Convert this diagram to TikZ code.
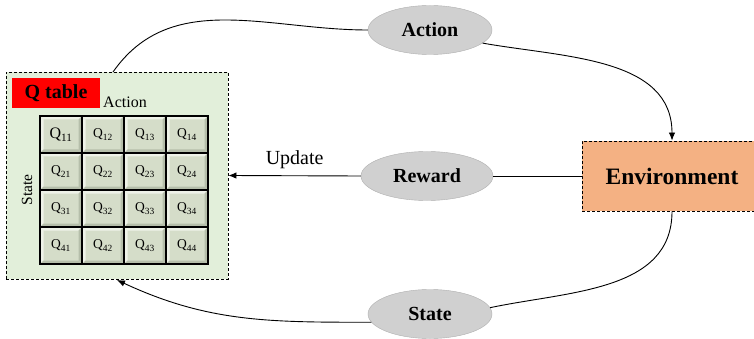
\documentclass[tikz,border=0pt]{standalone}
\usepackage{fontspec}
\setmainfont{Liberation Serif}
\usetikzlibrary{shapes.geometric,arrows.meta}
\definecolor{qtgreen}{HTML}{E2EFDA}
\definecolor{envorange}{HTML}{F4B183}
\definecolor{ellfill}{HTML}{D0D0D0}
\definecolor{ellline}{HTML}{AFAFAF}
\definecolor{cellfill}{HTML}{D5DDC9}
\definecolor{bevlight}{HTML}{EEF2E8}
\definecolor{bevdark}{HTML}{B5BEAA}
\tikzset{
  ovalbox/.style={ellipse, draw=ellline, fill=ellfill, minimum width=124pt, minimum height=49pt, inner sep=0pt,
    font=\fontsize{20}{24}\selectfont\bfseries},
  dashframe/.style={rectangle, draw=black, dash pattern=on 3pt off 2pt, line width=0.9pt, inner sep=0pt},
  qcell/.style={rectangle, draw=black, line width=1.4pt, fill=cellfill, minimum width=42pt, minimum height=37pt, inner sep=0pt,
    font=\fontsize{13.5}{16}\selectfont,
    path picture={
      \fill[bevlight] (path picture bounding box.north west) -- (path picture bounding box.north east)
        -- ([xshift=-3.5pt,yshift=-3.5pt]path picture bounding box.north east)
        -- ([xshift=3.5pt,yshift=-3.5pt]path picture bounding box.north west) -- cycle;
      \fill[bevlight] (path picture bounding box.north west) -- (path picture bounding box.south west)
        -- ([xshift=3.5pt,yshift=3.5pt]path picture bounding box.south west)
        -- ([xshift=3.5pt,yshift=-3.5pt]path picture bounding box.north west) -- cycle;
      \fill[bevdark] (path picture bounding box.south east) -- (path picture bounding box.south west)
        -- ([xshift=3.5pt,yshift=3.5pt]path picture bounding box.south west)
        -- ([xshift=-3.5pt,yshift=3.5pt]path picture bounding box.south east) -- cycle;
      \fill[bevdark] (path picture bounding box.south east) -- (path picture bounding box.north east)
        -- ([xshift=-3.5pt,yshift=-3.5pt]path picture bounding box.north east)
        -- ([xshift=-3.5pt,yshift=3.5pt]path picture bounding box.south east) -- cycle;
    }},
  conn/.style={line width=0.9pt, black},
  arr/.style={conn, -{Latex[length=8pt,width=6.5pt]}}
}
\begin{document}
\begin{tikzpicture}[x=1pt,y=1pt]
\clip (0,0) rectangle (754,-339);
\fill[white] (0,0) rectangle (754,-339);

% Q table frame
\node[dashframe, fill=qtgreen, minimum width=222pt, minimum height=207pt] (qt) at (117,-175.5) {};
\node[rectangle, fill=red, minimum width=88pt, minimum height=30pt, inner sep=0pt, font=\fontsize{20}{24}\selectfont\bfseries] (qlabel) at (56,-93) {Q table};
\node[font=\fontsize{16}{19}\selectfont, inner sep=0pt] (actlab) at (125,-102) {Action};
\node[font=\fontsize{15.5}{18}\selectfont, inner sep=0pt, rotate=90] (statelab) at (27,-190) {State};

% grid
\foreach \i/\yy in {1/134.5,2/171.5,3/208.5,4/245.5}{
  \foreach \j/\xx in {1/61,2/103,3/145,4/187}{
    \ifnum\i\j=11
      \node[qcell, font=\fontsize{16}{19}\selectfont] (q\i\j) at (\xx,-\yy) {Q\textsubscript{\i\j}};
    \else
      \node[qcell] (q\i\j) at (\xx,-\yy) {Q\textsubscript{\i\j}};
    \fi
  }
}

% ellipses
\node[ovalbox] (act) at (430,-30) {Action};
\node[ovalbox, minimum width=132pt] (rew) at (427,-176) {Reward};
\node[ovalbox] (st) at (430,-314) {State};

% environment
\node[dashframe, fill=envorange, minimum width=180pt, minimum height=70pt,
  font=\fontsize{23.5}{28}\selectfont\bfseries] (env) at (672,-176) {Environment};

% connectors
\coordinate (qtA) at (113,-72);
\coordinate (qtS) at (117,-280);
\draw[conn] (qtA) to[out=55, in=180] (act.west);
\draw[arr] (act.-14) to[out=-10, in=90] (env.north);
\draw[conn] (env.west) -- (rew.east);
\draw[arr] (rew.west) -- node[above=3pt, font=\fontsize{20}{24}\selectfont] {Update} (qt.east);
\draw[conn] (env.south) to[out=-90, in=12] (st.6);
\draw[arr] (st.188) to[out=180, in=-25] (qtS);
\end{tikzpicture}
\end{document}
